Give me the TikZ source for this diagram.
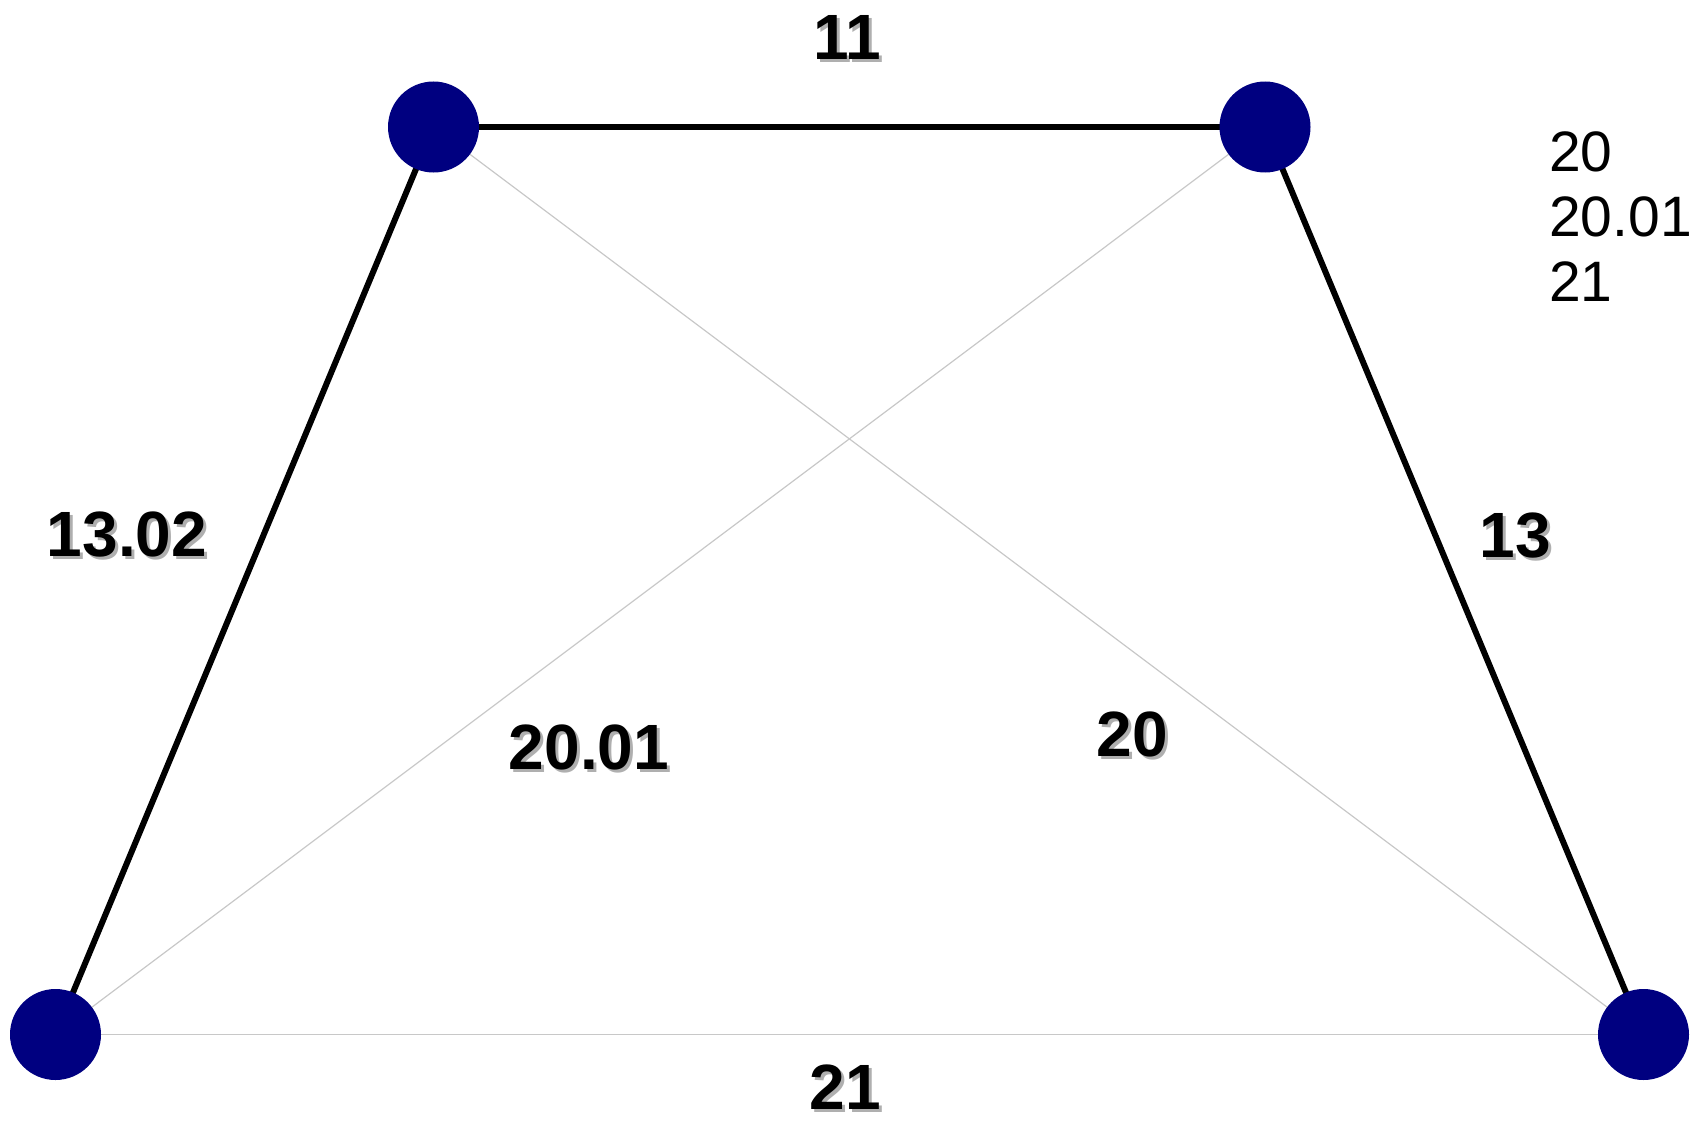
\documentclass[tikz,border=0pt]{standalone}
\usepackage{fontspec}
\setmainfont{Liberation Sans}
\begin{document}
\begin{tikzpicture}[x=1pt,y=-1pt,
  vtx/.style={circle,fill={rgb,255:red,0;green,0;blue,128},minimum size=91pt,inner sep=0pt},
  heavy/.style={line width=6pt,black},
  light/.style={line width=1.2pt,color={rgb,255:red,200;green,200;blue,200}},
  lbl/.style={inner sep=0pt,font=\fontsize{64}{76}\selectfont\bfseries},
  leg/.style={inner sep=0pt,anchor=base west,font=\fontsize{57}{66}\selectfont}]
\useasboundingbox (0,0) rectangle (1691,1121);
\coordinate (pTL) at (433.5,127);
\coordinate (pTR) at (1265,127);
\coordinate (pBL) at (55.5,1034.5);
\coordinate (pBR) at (1643.5,1034.5);
\draw[light] (pTL) -- (pBR);
\draw[light] (pTR) -- (pBL);
\draw[light] (pBL) -- (pBR);
\draw[heavy] (pTL) -- (pTR);
\draw[heavy] (pTL) -- (pBL);
\draw[heavy] (pTR) -- (pBR);
\node[vtx] (a) at (pTL) {};
\node[vtx] (b) at (pTR) {};
\node[vtx] (c) at (pBL) {};
\node[vtx] (d) at (pBR) {};
\foreach \t/\x/\y in {11/847/37, 13.02/127/535, 20.01/589/747, 20/1132/734, 13/1515/536, 21/845/1087}{
  \node[lbl,text={rgb,255:red,175;green,175;blue,175}] at (\x+3,\y+3) {\t};
  \node[lbl] (l\t) at (\x,\y) {\t};
}
\node[leg] (k1) at (1549,171.7) {20};
\node[leg] (k2) at (1549,236.7) {20.01};
\node[leg] (k3) at (1549,301) {21};
\end{tikzpicture}
\end{document}
